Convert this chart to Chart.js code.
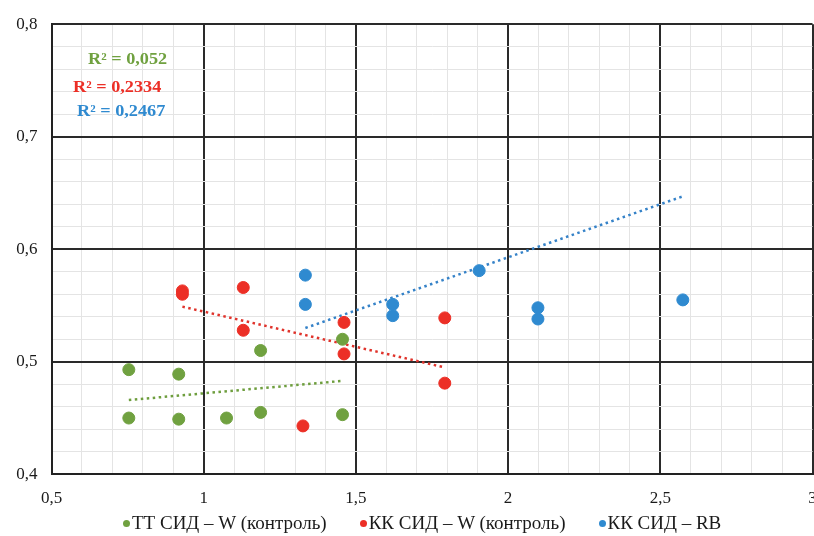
<!DOCTYPE html>
<html>
<head>
<meta charset="utf-8">
<script src="https://cdn.jsdelivr.net/npm/chart.js@4.4.0/dist/chart.umd.min.js"></script>
<style>
  html, body { margin: 0; padding: 0; background: #fff; overflow: hidden; }
  #wrap { position: relative; width: 814px; height: 536px; }
  #chart { display: block; }
  #legend {
    position: absolute; left: 123px; top: 512px; height: 22px;
    display: flex; align-items: center; gap: 33px;
    font-family: 'Liberation Serif', 'Times New Roman', serif; font-size: 19px; color: #1a1a1a;
    white-space: nowrap;
  }
  #legend .item { display: flex; align-items: center; }
  #legend .dot { width: 7px; height: 7px; border-radius: 50%; margin-right: 2px; }
</style>
</head>
<body>
<div id="wrap"><canvas id="chart"></canvas><div id="legend"></div></div>
<script>
// Точки (x, y) по сериям
const greenX = [0.754, 0.754, 0.918, 0.918, 1.075, 1.187, 1.187, 1.456, 1.456];
const greenY = [0.493, 0.450, 0.489, 0.449, 0.450, 0.510, 0.455, 0.520, 0.453];

const redX = [0.930, 0.930, 1.130, 1.130, 1.326, 1.461, 1.461, 1.792, 1.792];
const redY = [0.563, 0.560, 0.566, 0.528, 0.443, 0.535, 0.507, 0.539, 0.481];

const blueX = [1.334, 1.334, 1.621, 1.621, 1.905, 2.098, 2.098, 2.574];
const blueY = [0.577, 0.551, 0.551, 0.541, 0.581, 0.548, 0.538, 0.555];

// Линии тренда: концы (x, y)
const greenTrendX = [0.754, 1.456];
const greenTrendY = [0.466, 0.483];
const redTrendX = [0.930, 1.792];
const redTrendY = [0.549, 0.495];
const blueTrendX = [1.334, 2.574];
const blueTrendY = [0.530, 0.647];

const seriesNames = ['ТТ СИД – W (контроль)', 'КК СИД – W (контроль)', 'КК СИД – RB'];
const r2Labels = ['R² = 0,052', 'R² = 0,2334', 'R² = 0,2467'];

const COLORS = ['#70A140', '#EC2F26', '#2F8AD0'];
const TREND_COLORS = ['#6E9E3E', '#E0332B', '#3582C8'];

const FONT = 'Liberation Serif, Times New Roman, serif';
const PLOT_RIGHT = 812.5;

function pts(xs, ys) {
  return xs.map((x, i) => ({ x: x, y: ys[i] }));
}

function trend(xs, ys, color) {
  return {
    type: 'line',
    data: pts(xs, ys),
    borderColor: color,
    borderWidth: 2.5,
    borderDash: [2.5, 3.5],
    pointRadius: 0,
    fill: false,
    showLine: true
  };
}

// Подписи R² в левом верхнем углу (шрифт слегка растянут по ширине, как в оригинале)
const r2Plugin = {
  id: 'r2',
  afterDatasetsDraw(chart) {
    const ctx = chart.ctx;
    const sx = 1.14;
    const pos = [[88, 60], [73, 88], [77, 112]];
    ctx.save();
    ctx.font = 'bold 16px ' + FONT;
    ctx.textBaseline = 'middle';
    ctx.textAlign = 'left';
    ctx.scale(sx, 1);
    r2Labels.forEach((t, i) => {
      ctx.fillStyle = COLORS[i];
      ctx.fillText(t, pos[i][0] / sx, pos[i][1]);
    });
    ctx.restore();
  }
};

// Chart.js оставляет место под подпись "3" справа; в оригинале ось доходит почти до края
const stretchPlugin = {
  id: 'stretch',
  afterLayout(chart) {
    const x = chart.scales.x;
    chart.chartArea.right = PLOT_RIGHT;
    chart.chartArea.width = PLOT_RIGHT - chart.chartArea.left;
    x.right = PLOT_RIGHT;
    x.width = PLOT_RIGHT - x.left;
    x.configure();
  }
};

const isMajorX = v => Math.abs(Math.round(v * 10) % 5) === 0;
const isMajorY = v => Math.abs(Math.round(v * 100) % 10) === 0;

new Chart(document.getElementById('chart'), {
  type: 'scatter',
  data: {
    datasets: [
      { label: seriesNames[0], data: pts(greenX, greenY), backgroundColor: COLORS[0], borderColor: COLORS[0], pointRadius: 6, pointHoverRadius: 6 },
      { label: seriesNames[1], data: pts(redX, redY), backgroundColor: COLORS[1], borderColor: COLORS[1], pointRadius: 6, pointHoverRadius: 6 },
      { label: seriesNames[2], data: pts(blueX, blueY), backgroundColor: COLORS[2], borderColor: COLORS[2], pointRadius: 6, pointHoverRadius: 6 },
      trend(greenTrendX, greenTrendY, TREND_COLORS[0]),
      trend(redTrendX, redTrendY, TREND_COLORS[1]),
      trend(blueTrendX, blueTrendY, TREND_COLORS[2])
    ]
  },
  options: {
    responsive: true,
    maintainAspectRatio: false,
    animation: false,
    layout: { padding: { top: 16, right: 1.5, left: 0, bottom: 21.7 } },
    plugins: {
      tooltip: { enabled: false },
      legend: { display: false }
    },
    scales: {
      x: {
        type: 'linear',
        min: 0.5,
        max: 3,
        afterFit: s => { s.height = 40; },
        border: { display: true, color: '#222', width: 2 },
        grid: {
          drawTicks: false,
          color: c => isMajorX(c.tick.value) ? '#2a2a2a' : '#e4e4e4',
          lineWidth: c => isMajorX(c.tick.value) ? 2 : 1
        },
        ticks: {
          stepSize: 0.1,
          autoSkip: false,
          maxRotation: 0,
          padding: 14,
          color: '#1a1a1a',
          font: { family: FONT, size: 17 },
          callback: v => isMajorX(v) ? String(Math.round(v * 10) / 10).replace('.', ',') : ''
        }
      },
      y: {
        type: 'linear',
        min: 0.4,
        max: 0.8,
        afterFit: s => { s.width = 51.5; },
        border: { display: true, color: '#222', width: 2 },
        grid: {
          drawTicks: false,
          color: c => isMajorY(c.tick.value) ? '#2a2a2a' : '#e4e4e4',
          lineWidth: c => isMajorY(c.tick.value) ? 2 : 1
        },
        ticks: {
          stepSize: 0.02,
          autoSkip: false,
          padding: 14,
          color: '#1a1a1a',
          font: { family: FONT, size: 17 },
          callback: v => isMajorY(v) ? String(Math.round(v * 10) / 10).replace('.', ',') : ''
        }
      }
    }
  },
  plugins: [stretchPlugin, r2Plugin]
});

// Легенда под графиком
const legendEl = document.getElementById('legend');
seriesNames.forEach((name, i) => {
  const item = document.createElement('div');
  item.className = 'item';
  const dot = document.createElement('span');
  dot.className = 'dot';
  dot.style.background = COLORS[i];
  const txt = document.createElement('span');
  txt.textContent = name;
  item.appendChild(dot);
  item.appendChild(txt);
  legendEl.appendChild(item);
});
</script>
</body>
</html>
